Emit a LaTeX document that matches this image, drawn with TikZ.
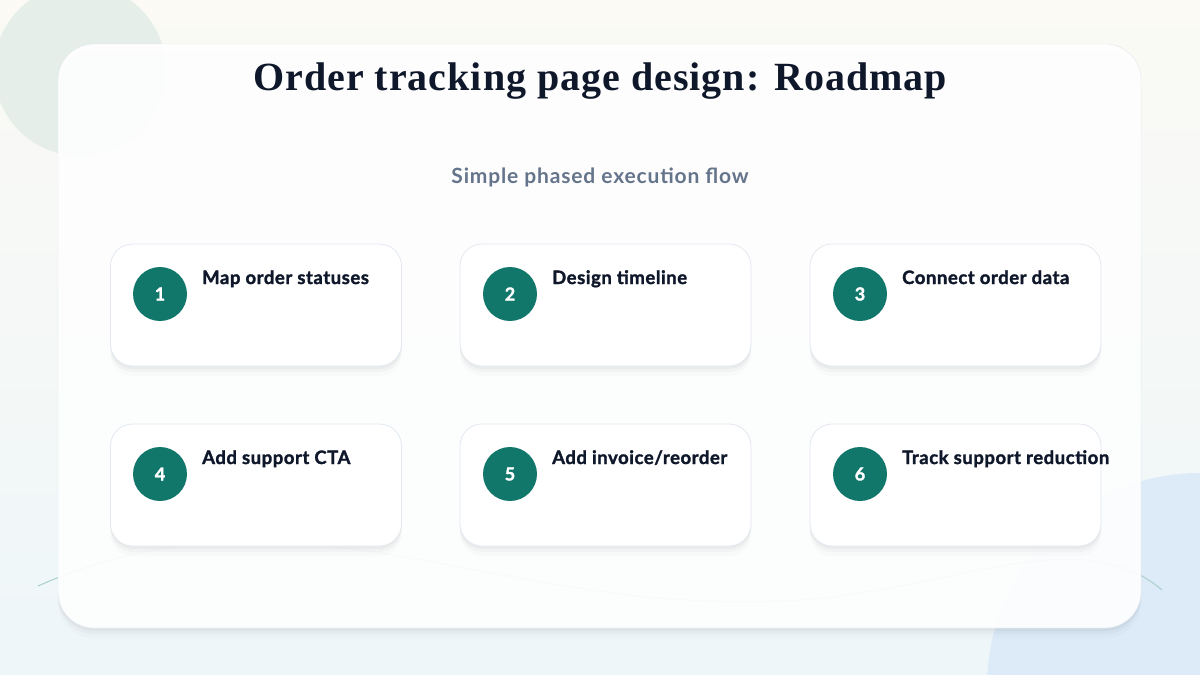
\documentclass[tikz,border=0pt]{standalone}
\usepackage{fontspec}
\setmainfont{Liberation Serif}
\newfontfamily\cardfont[FakeBold=1.6,LetterSpace=3]{Lato}
\newfontfamily\subfont[LetterSpace=4]{Lato}
\newfontfamily\titlefont[LetterSpace=2.5]{Liberation Serif}
\usetikzlibrary{positioning,shadows}
\definecolor{teal}{HTML}{12776B}
\definecolor{ink}{HTML}{0F172A}
\definecolor{subgrey}{HTML}{64748B}
\definecolor{edgegrey}{HTML}{E3E8F0}
\definecolor{blobgreen}{HTML}{E6EEE9}
\definecolor{blobblue}{HTML}{DCEBF7}
\definecolor{bgtop}{HTML}{FBFAF5}
\definecolor{bgbottom}{HTML}{EEF6F9}
\begin{document}
\begin{tikzpicture}[x=1pt,y=-1pt,
  softshadow/.style={
    drop shadow={shadow xshift=0pt,shadow yshift=-3pt,opacity=0.03,fill=black},
    drop shadow={shadow xshift=0pt,shadow yshift=-6pt,opacity=0.025,fill=black},
    drop shadow={shadow xshift=0pt,shadow yshift=-10pt,opacity=0.015,fill=black}},
  card/.style={draw=edgegrey,line width=0.8pt,fill=white,rounded corners=22pt,
    minimum width=291pt,minimum height=122pt,softshadow},
  num/.style={circle,fill=teal,minimum size=54pt,inner sep=0pt,text=white,
    font=\cardfont\fontsize{18}{18}\selectfont\bfseries},
  lbl/.style={anchor=base west,inner sep=0pt,text=ink,
    font=\cardfont\bfseries\fontsize{18.5}{18.5}\selectfont}]
% backdrop
\useasboundingbox (0,0) rectangle (1200,675);
\shade[top color=bgtop,bottom color=bgbottom] (0,0) rectangle (1200,675);
\fill[blobgreen] (80,70) circle[radius=86];
\fill[blobblue] (1200,686) circle[radius=213];
\draw[teal!35,line width=1pt] (38,586) .. controls (300,470) and (500,620) .. (800,600)
  .. controls (950,590) and (1080,520) .. (1162,590);
% panel
\node (panel) at (599.5,336) [draw=edgegrey,fill=white,fill opacity=0.93,draw opacity=1,
  rounded corners=36pt,minimum width=1083pt,minimum height=584pt,softshadow] {};
\node (title) at (600,81) [text=ink]
  {\titlefont\bfseries\fontsize{40}{40}\selectfont Order tracking page design: Roadmap};
\node (sub) at (600,177) [text=subgrey,font=\subfont\bfseries\fontsize{21}{21}\selectfont]
  {Simple phased execution flow};
% phases
\node[card] (c1) at (256,305) {};
\node[card] (c2) at (605.5,305) {};
\node[card] (c3) at (955.5,305) {};
\node[card] (c4) at (256,485) {};
\node[card] (c5) at (605.5,485) {};
\node[card] (c6) at (955.5,485) {};
\node[num] (n1) at (160,294) {1};
\node[num] (n2) at (510,294) {2};
\node[num] (n3) at (860,294) {3};
\node[num] (n4) at (160,474) {4};
\node[num] (n5) at (510,474) {5};
\node[num] (n6) at (860,474) {6};
\node[lbl] (l1) at (202,284) {Map order statuses};
\node[lbl] (l2) at (552,284) {Design timeline};
\node[lbl] (l3) at (902,284) {Connect order data};
\node[lbl] (l4) at (202,464) {Add support CTA};
\node[lbl] (l5) at (552,464) {Add invoice/reorder};
\node[lbl] (l6) at (902,464) {Track support reduction};
\end{tikzpicture}
\end{document}
